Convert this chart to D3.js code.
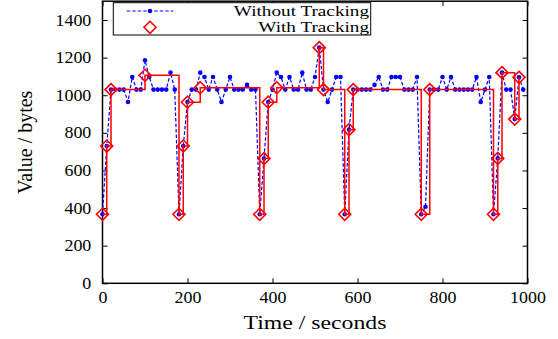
<!DOCTYPE html>
<html>
<head>
<meta charset="utf-8">
<script src="https://cdn.jsdelivr.net/npm/d3@7"></script>
<style>
  body { margin: 0; background: #fff; }
  text { font-family: "Liberation Serif", "Times New Roman", serif; fill: #000; }
</style>
</head>
<body>
<script>
// sampled every 10 s, "without tracking"
const timesWithout = d3.range(0, 1000, 10);
const valuesWithout = [
  367, 730, 1030, 1030, 1030, 1030, 964, 1097, 1030, 1030,
  1186, 1097, 1030, 1030, 1030, 1030, 1120, 1030, 367, 730,
  964, 1030, 1030, 1120, 1097, 1030, 1097, 1030, 964, 1030,
  1097, 1030, 1030, 1030, 1055, 1030, 1030, 367, 663, 964,
  1030, 1120, 1097, 1030, 1097, 1030, 1030, 1120, 1030, 1030,
  1097, 1253, 1030, 964, 1030, 1097, 1097, 367, 817, 1030,
  1030, 1030, 1030, 1030, 1055, 1097, 1030, 1030, 1097, 1097,
  1097, 1030, 1030, 1030, 1097, 367, 407, 1030, 1030, 1030,
  1097, 1030, 1097, 1030, 1030, 1030, 1030, 1030, 1097, 964,
  1030, 1097, 367, 664, 1120, 1030, 1030, 873, 1095, 1030
];

// only logged on change, "with tracking"
const timesWith = [0, 10, 20, 100, 180, 190, 200, 230, 370, 380, 390, 410,
  510, 520, 570, 580, 590, 750, 770, 920, 930, 940, 970, 980];
const valuesWith = [367, 730, 1030, 1106, 367, 730, 963, 1040, 367, 663, 963, 1040,
  1253, 1030, 367, 817, 1030, 367, 1030, 367, 664, 1120, 873, 1095];

const xTicks = [0, 200, 400, 600, 800, 1000];
const yTicks = [0, 200, 400, 600, 800, 1000, 1200, 1400];
const seriesNames = ["Without Tracking", "With Tracking"];

const width = 558, height = 339;
const plotLeft = 102.5, plotRight = 527.5, plotTop = 1.2, plotBottom = 283.3;

const blueData = timesWithout.map((t, i) => ({ t: t, v: valuesWithout[i] }));
const redData = timesWith.map((t, i) => ({ t: t, v: valuesWith[i] }));

const svg = d3.select("body").append("svg")
  .attr("width", width)
  .attr("height", height);

const x = d3.scaleLinear().domain([0, 1000]).range([plotLeft, plotRight]);
const y = d3.scaleLinear().domain([0, 1500]).range([plotBottom, plotTop]);

// axes, ticks inward and mirrored like gnuplot
const gx = svg.append("g").attr("transform", `translate(0,${plotBottom})`)
  .call(d3.axisBottom(x).tickValues(xTicks).tickFormat(d3.format("d"))
    .tickSizeInner(-5).tickSizeOuter(0).tickPadding(8.8));
const gy = svg.append("g").attr("transform", `translate(${plotLeft},0)`)
  .call(d3.axisLeft(y).tickValues(yTicks).tickFormat(d3.format("d"))
    .tickSizeInner(-5).tickSizeOuter(0).tickPadding(10));
svg.append("g").attr("transform", `translate(0,${plotTop})`)
  .call(d3.axisTop(x).tickValues(xTicks).tickSizeInner(-5).tickSizeOuter(0).tickFormat(""));
svg.append("g").attr("transform", `translate(${plotRight},0)`)
  .call(d3.axisRight(y).tickValues(yTicks).tickSizeInner(-5).tickSizeOuter(0).tickFormat(""));

svg.selectAll(".domain").remove();
svg.selectAll(".tick line").attr("stroke", "#000");
gx.attr("font-family", null);
gy.attr("font-family", null);
gx.selectAll("text").attr("font-size", 16).attr("transform", "scale(1.12,1)");
gy.selectAll("text").attr("font-size", 16).attr("transform", "scale(1.12,1)");

svg.append("rect")
  .attr("x", plotLeft).attr("y", plotTop)
  .attr("width", plotRight - plotLeft).attr("height", plotBottom - plotTop)
  .attr("fill", "none").attr("stroke", "#000").attr("stroke-width", 1.5);

// without tracking
svg.append("path")
  .datum(blueData)
  .attr("fill", "none")
  .attr("stroke", "#0000ff")
  .attr("stroke-width", 1.2)
  .attr("stroke-dasharray", "3.5,2")
  .attr("d", d3.line().x(d => x(d.t)).y(d => y(d.v)));

svg.append("g").selectAll("circle")
  .data(blueData)
  .enter().append("circle")
  .attr("cx", d => x(d.t))
  .attr("cy", d => y(d.v))
  .attr("r", 2.3)
  .attr("fill", "#0000ff");

// with tracking
svg.append("path")
  .datum(redData)
  .attr("fill", "none")
  .attr("stroke", "#ff0000")
  .attr("stroke-width", 1.5)
  .attr("d", d3.line().curve(d3.curveStepAfter).x(d => x(d.t)).y(d => y(d.v)));

const diamond = "M0,-6L6,0L0,6L-6,0Z";
svg.append("g").selectAll("path")
  .data(redData)
  .enter().append("path")
  .attr("d", diamond)
  .attr("transform", d => `translate(${x(d.t)},${y(d.v)})`)
  .attr("fill", "none")
  .attr("stroke", "#ff0000")
  .attr("stroke-width", 1.6);

// legend
const legend = svg.append("g");
legend.append("rect")
  .attr("x", 113.3).attr("y", 2.7)
  .attr("width", 257.4).attr("height", 32.3)
  .attr("fill", "#fff").attr("stroke", "#000").attr("stroke-width", 1);
legend.append("line")
  .attr("x1", 126.7).attr("x2", 173.3).attr("y1", 11).attr("y2", 11)
  .attr("stroke", "#0000ff").attr("stroke-width", 1.2).attr("stroke-dasharray", "3.5,2");
legend.append("circle").attr("cx", 150).attr("cy", 11).attr("r", 2.3).attr("fill", "#0000ff");
legend.append("path").attr("d", diamond)
  .attr("transform", "translate(150,27.3)")
  .attr("fill", "none").attr("stroke", "#ff0000").attr("stroke-width", 1.6);
legend.selectAll(".ltext")
  .data(seriesNames)
  .enter().append("text")
  .attr("class", "ltext")
  .attr("transform", (d, i) => `translate(369,${i == 0 ? 16 : 31.5}) scale(1.28,1)`)
  .attr("text-anchor", "end")
  .attr("font-size", 15)
  .text(d => d);

// axis titles
svg.append("text")
  .attr("transform", `translate(${(plotLeft + plotRight) / 2},329) scale(1.25,1)`)
  .attr("text-anchor", "middle")
  .attr("font-size", 19)
  .text("Time / seconds");

svg.append("text")
  .attr("transform", `translate(31.5,${(plotTop + plotBottom) / 2}) rotate(-90)`)
  .attr("text-anchor", "middle")
  .attr("font-size", 20)
  .text("Value / bytes");
</script>
</body>
</html>
